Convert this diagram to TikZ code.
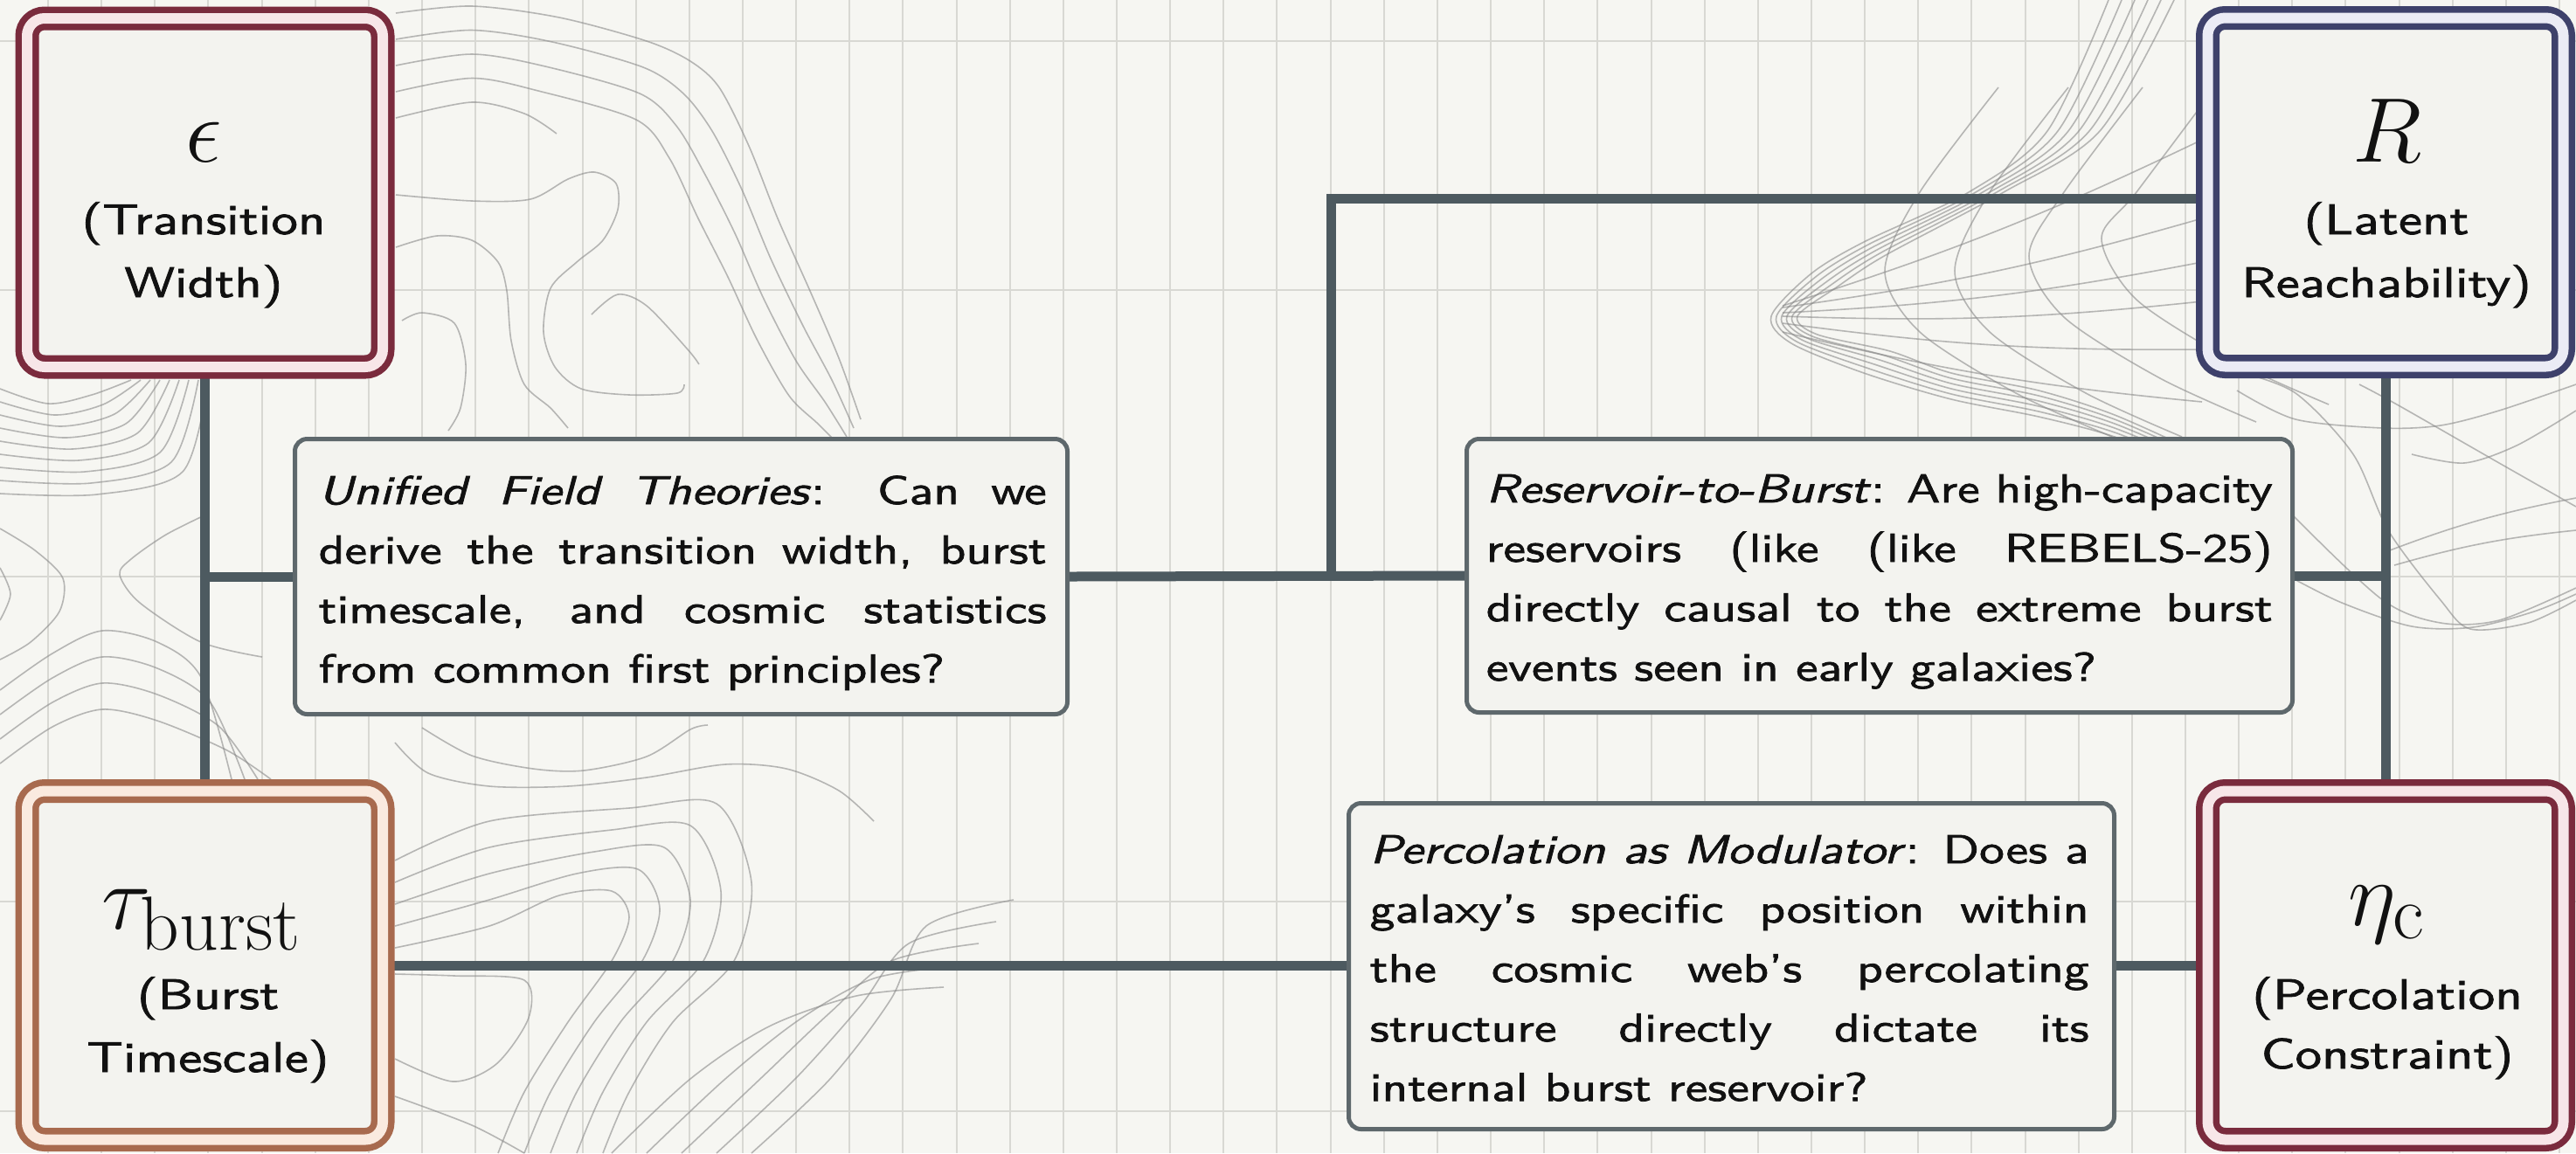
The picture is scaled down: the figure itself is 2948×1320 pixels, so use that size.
\documentclass[tikz,border=0pt]{standalone}
\usepackage{graphicx}
\usepackage{fontspec}
\setsansfont{lmsans10-regular}[Extension=.otf, ItalicFont=lmsans10-oblique, FakeStretch=1.25, FakeBold=1.6]
\newlength\upx
\setlength\upx{0.01cm}
\pgfdeclarelayer{bglayer}
\pgfdeclarelayer{connlayer}
\pgfsetlayers{bglayer,connlayer,main}
\definecolor{bgc}{HTML}{F6F6F2}
\definecolor{gridc}{HTML}{D8D8D3}
\definecolor{contc}{HTML}{8A8A8A}
\definecolor{connc}{HTML}{4D5A60}
\definecolor{qborder}{HTML}{5E686C}
\definecolor{qfill}{HTML}{F3F3EF}
\definecolor{nodefill}{HTML}{F3F3EF}
\definecolor{maroonc}{HTML}{7A2B3D}
\definecolor{maroontint}{HTML}{F7E6E8}
\definecolor{navyc}{HTML}{3E416B}
\definecolor{navytint}{HTML}{EBEBF5}
\definecolor{brownc}{HTML}{A86A4E}
\definecolor{browntint}{HTML}{FAEADF}
\definecolor{txt}{HTML}{111111}
\newcommand\myqfont{\sffamily\fontsize{13.1}{19.35}\selectfont\tolerance=10000\hyphenpenalty=10000\exhyphenpenalty=10000}
\newcommand\mylblfont{\sffamily\fontsize{13.9}{20.5}\selectfont}
\newcommand\mysym[1]{\scalebox{1.2}{\fontsize{24.88}{25}\selectfont$#1$}}
\tikzset{
  gridline/.style={draw=gridc, line width=2\upx},
  contour/.style={draw=contc, line width=1.6\upx, opacity=0.6},
  conn/.style={draw=connc, line width=11\upx},
  varbox/.style={rectangle, rounded corners=20\upx, minimum width=407\upx, minimum height=399\upx, line width=7.5\upx, double distance=12\upx, fill=nodefill, inner sep=0pt},
  qbox/.style={rectangle, rounded corners=14\upx, draw=qborder, line width=5\upx, fill=qfill, inner sep=0pt},
  qtext/.style={align=justify, inner sep=0pt, anchor=base west, font=\myqfont, text=txt},
  lbl/.style={inner sep=0pt, anchor=base, font=\mylblfont, text=txt},
  sym/.style={inner sep=0pt, anchor=base, text=txt},
}
\begin{document}
\begin{tikzpicture}[x=0.01cm, y=-0.01cm]
\useasboundingbox (0,0) rectangle (2948,1320);
\begin{pgfonlayer}{bglayer}
\fill[bgc] (0,0) rectangle (2948,1320);
% grid
\foreach \k in {0,...,47} \draw[gridline] ({55+61.15*\k},0) -- ({55+61.15*\k},1320);
\foreach \yy in {47,332,660,1032,1272} \draw[gridline] (0,\yy) -- (2948,\yy);
% contours left
\foreach \i in {0,...,8} \draw[contour] plot[smooth] coordinates {(0,{445+15*\i}) ({55+7*\i},{462+13*\i}) ({105+13*\i},{452+11*\i}) ({150+11*\i},435)};
\draw[contour] plot[smooth] coordinates {(238,588) (190,612) (150,640) (137,658) (160,690) (230,735) (300,752)};
\draw[contour] plot[smooth] coordinates {(0,605) (40,630) (72,662) (68,700) (35,735) (0,755)};
\draw[contour] plot[smooth] coordinates {(0,650) (12,680) (0,710)};
\foreach \i in {0,...,3} \draw[contour] plot[smooth] coordinates {(0,{790+28*\i}) (60,{748+28*\i}) (117,{722+30*\i}) (180,{735+30*\i}) ({230+10*\i},{775+28*\i}) ({265+15*\i},892)};
% contours upper left (right of epsilon box)
\foreach \i in {0,...,3} \draw[contour] plot[smooth] coordinates {(453,{15+30*\i}) (540,{7+27.5*\i}) ({640-8*\i},{20+28*\i}) ({740-4*\i},{47+30*\i}) ({790-8*\i},{70+37*\i}) ({823-8*\i},{100+50*\i}) ({857-8*\i},{167+50*\i}) ({890-8*\i},{250+46*\i}) ({927-8*\i},{333+40*\i}) ({960-8*\i},{410+25*\i}) ({985-8*\i},{480+10*\i})};
\draw[contour] plot[smooth] coordinates {(453,135) (540,117) (600,130) (637,153)};
\draw[contour] plot[smooth] coordinates {(453,223) (540,230) (607,228) (650,205) (680,197) (705,210) (707,240) (690,275) (660,300) (630,330) (622,380) (635,420) (665,445) (720,452) (775,450) (783,440)};
\draw[contour] plot[smooth] coordinates {(453,283) (500,270) (540,275) (570,300) (580,333) (585,390) (600,440) (630,467) (650,490)};
\draw[contour] plot[smooth] coordinates {(460,367) (483,358) (520,370) (533,417) (527,467) (513,493)};
\draw[contour] plot[smooth] coordinates {(677,360) (707,337) (740,350) (787,400) (800,417)};
% contours lower middle
\foreach \i in {0,...,4} \draw[contour] plot[smooth] coordinates {(452,{1085-25*\i}) (560,{1060-30*\i}) ({640+20*\i},{1025-25*\i}) ({700+30*\i},{1020-25*\i}) ({720+35*\i},{1050-10*\i}) ({700+35*\i},1100) ({650+30*\i},1170) ({600+30*\i},1250) ({570+30*\i},1320)};
\draw[contour] plot[smooth] coordinates {(483,833) (540,865) (610,880) (668,882) (740,866) (790,835) (810,830)};
\draw[contour] plot[smooth] coordinates {(452,850) (490,885) (560,900) (650,900) (740,890) (830,875) (900,880) (960,905) (1000,940)};
\foreach \i in {0,...,4} \draw[contour] plot[smooth] coordinates {({700+40*\i},1320) ({790+40*\i},1235) ({880+35*\i},{1175-8*\i}) ({980+20*\i},{1140-20*\i}) ({1080+20*\i},{1130-25*\i})};
\draw[contour] plot[smooth] coordinates {(452,1115) (520,1117) (600,1122) (605,1165) (568,1218) (518,1238) (452,1212)};
\draw[contour] plot[smooth] coordinates {(452,1255) (540,1288) (600,1320)};
% contours near R (bell)
\foreach \i in {0,...,5} \draw[contour] plot[smooth] coordinates {({2413+15*\i},0) ({2343+12*\i},150) ({2253+8*\i},220) ({2133+5*\i},{277+3*\i}) ({2073+6*\i},{313+3*\i}) ({2027+6*\i},362) ({2050+6*\i},{393-2*\i}) ({2133+6*\i},{427-5*\i}) (2233,{457-6*\i}) (2333,{477-6*\i}) (2420,{500-5*\i}) (2520,{540-4*\i})};
\foreach \vx/\vy in {2157/310, 2237/310, 2322/293, 2405/273} \draw[contour] plot[smooth] coordinates {({\vx+130},100) ({\vx+40},220) (\vx,\vy) ({\vx+40},{\vy+70}) ({\vx+150},{\vy+140}) ({\vx+260},{\vy+190})};
\foreach \ya/\yb in {350/160, 352/250, 358/300, 362/345, 370/400, 380/460} \draw[contour] (2040,\ya) to[bend right=4] (2520,\yb);
% contours right of reservoir box
\draw[contour] plot[smooth] coordinates {(2560,447) (2627,480) (2727,490) (2793,487) (2860,470) (2948,440)};
\draw[contour] plot[smooth] coordinates {(2560,425) (2627,450) (2693,520) (2733,607) (2793,687) (2827,720) (2893,713) (2948,687)};
\draw[contour] plot[smooth] coordinates {(2600,560) (2627,593) (2727,687) (2793,713) (2860,710) (2948,673)};
\draw[contour] plot[smooth] coordinates {(2620,660) (2680,690) (2760,717) (2830,718) (2900,700) (2948,680)};
\draw[contour] (2727,633) to[bend left=5] (2948,570);
\draw[contour] (2740,647) to[bend left=5] (2948,607);
\draw[contour] plot[smooth] coordinates {(2700,440) (2743,463) (2860,530) (2948,580)};
\draw[contour] plot[smooth] coordinates {(2760,520) (2820,530) (2880,510) (2948,470)};
\end{pgfonlayer}
% boxes
\node[varbox, draw=maroonc, double=maroontint] (eps) at (234.5,220.5) {};
\node[varbox, draw=navyc, double=navytint] (R) at (2730,220) {};
\node[varbox, draw=brownc, double=browntint] (tau) at (234.5,1105) {};
\node[varbox, draw=maroonc, double=maroontint] (eta) at (2730,1105) {};
\node[qbox, minimum width=884\upx, minimum height=315\upx] (uft) at (779.5,660) {};
\node[qbox, minimum width=945\upx, minimum height=313\upx] (rtb) at (2151,659) {};
\node[qbox, minimum width=876\upx, minimum height=373\upx] (perc) at (1981.5,1106) {};
% junction coordinates
\coordinate (j1) at (eps.center |- uft.west);
\coordinate (j2) at (1523,660);
\coordinate (ctop) at (1523,227);
\coordinate (j3) at (R.center |- rtb.east);
% connectors, behind the boxes
\begin{pgfonlayer}{connlayer}
\draw[conn] (eps.south) -- (tau.north);
\draw[conn] (j1) -- (uft.west);
\draw[conn] (uft.east) -- (rtb.west);
\draw[conn] (j2) -- (ctop) -- (ctop -| R.west);
\draw[conn] (R.south) -- (eta.north);
\draw[conn] (rtb.east) -- (j3);
\draw[conn] (tau.east) -- (eta.west);
\end{pgfonlayer}
% labels
\node[sym] (eps-s) at (233,185) {\mysym{\epsilon}};
\node[lbl] (eps-a) at (233,268) {(Transition};
\node[lbl] (eps-b) at (233,340) {Width)};
\node[sym] (R-s) at (2732,185) {\mysym{R}};
\node[lbl] (R-a) at (2731,268) {(Latent};
\node[lbl] (R-b) at (2731,340) {Reachability)};
\node[sym] (tau-s) at (231,1063) {\mysym{\tau_{\mathrm{burst}}}};
\node[lbl] (tau-a) at (238,1155) {(Burst};
\node[lbl] (tau-b) at (238,1227) {Timescale)};
\node[sym] (eta-s) at (2732,1059) {\mysym{\eta_{\mathrm{c}}}};
\node[lbl] (eta-a) at (2732,1155) {(Percolation};
\node[lbl] (eta-b) at (2732,1223) {Constraint)};
% question texts
\node[qtext, text width=833\upx] (uft-t) at (364,577) {\textit{Unified Field Theories}: Can we\linebreak derive the transition width, burst\linebreak timescale, and cosmic statistics\linebreak from common first principles?};
\node[qtext, text width=900\upx] (rtb-t) at (1700,575) {\textit{Reservoir-to-Burst}: Are high-capacity\linebreak reservoirs (like (like REBELS-25)\linebreak directly causal to the extreme burst\linebreak events seen in early galaxies?};
\node[qtext, text width=823\upx] (perc-t) at (1567,988) {\textit{Percolation as Modulator}: Does a\linebreak galaxy's specific position within\linebreak the cosmic web's percolating\linebreak structure directly dictate its\linebreak internal burst reservoir?};
\end{tikzpicture}
\end{document}
